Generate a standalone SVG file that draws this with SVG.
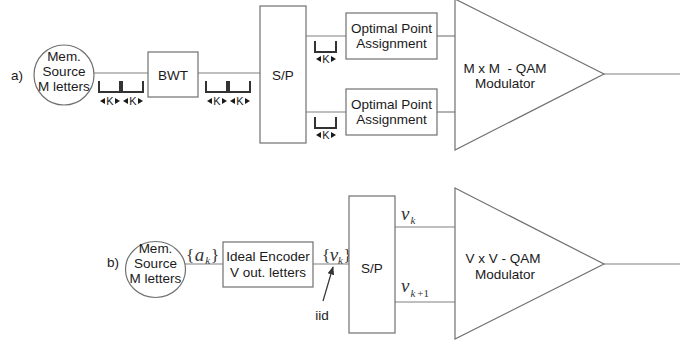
<svg xmlns="http://www.w3.org/2000/svg" xmlns:xlink="http://www.w3.org/1999/xlink" width="694" height="343" viewBox="0 0 694 343">
<style>
.box{fill:#fff;stroke:#707070;stroke-width:1.2}
.ln{fill:none;stroke:#808080;stroke-width:1.2}
.br{fill:none;stroke:#333;stroke-width:2}
.t{font-family:"Liberation Sans",Arial,sans-serif;font-size:13.5px;fill:#1a1a1a;text-anchor:middle}
.k{font-family:"Liberation Sans",Arial,sans-serif;font-size:11px;fill:#1a1a1a;text-anchor:middle}
.m{font-family:"Liberation Serif","Times New Roman",serif;font-size:17px;fill:#333}
.mi{font-style:italic}
.sub{font-family:"Liberation Serif","Times New Roman",serif;font-size:11px;font-style:italic;fill:#333}
.up{font-style:normal}
.big{font-size:19px}
</style>
<defs>
<g id="klab">
<polygon points="-10,0 -5,-3 -5,3" fill="#1a1a1a"/>
<text class="k" x="0" y="4">K</text>
<polygon points="10,0 5,-3 5,3" fill="#1a1a1a"/>
</g>
<marker id="arr" viewBox="0 0 10 10" refX="9" refY="5" markerWidth="7" markerHeight="7" orient="auto">
<path d="M0,1 L10,5 L0,9 z" fill="#333"/>
</marker>
</defs>

<!-- connectors -->
<g id="connectors">
<line class="ln" x1="94" y1="73" x2="148" y2="73"/>
<line class="ln" x1="198" y1="73" x2="260" y2="73"/>
<line class="ln" x1="306" y1="36" x2="346" y2="36"/>
<line class="ln" x1="306" y1="112" x2="346" y2="112"/>
<line class="ln" x1="437" y1="36" x2="455" y2="36"/>
<line class="ln" x1="437" y1="112" x2="455" y2="112"/>
<line class="ln" x1="604" y1="74" x2="680" y2="74"/>
<line class="ln" x1="185" y1="264" x2="223" y2="264"/>
<line class="ln" x1="313" y1="264" x2="349" y2="264"/>
<line class="ln" x1="395" y1="227" x2="455" y2="227"/>
<line class="ln" x1="395" y1="302" x2="455" y2="302"/>
<line class="ln" x1="604" y1="264" x2="680" y2="264"/>
<line x1="323" y1="301" x2="333" y2="267" stroke="#333" stroke-width="1.2" marker-end="url(#arr)"/>
</g>

<!-- a) -->
<text class="t" x="17" y="80">a)</text>
<g id="srcA">
<circle cx="64" cy="75" r="30" class="box"/>
<text class="t" x="64" y="61">Mem.</text>
<text class="t" x="64" y="76">Source</text>
<text class="t" x="64" y="91">M letters</text>
</g>
<g id="bktA1">
<path class="br" d="M99,81 V92 H120 V81 M122,81 V92 H143 V81"/>
<use xlink:href="#klab" x="110" y="101"/>
<use xlink:href="#klab" x="133" y="101"/>
</g>
<g id="bwt">
<rect class="box" x="148" y="52" width="50" height="45"/>
<text class="t" x="173" y="80">BWT</text>
</g>
<g id="bktA2">
<path class="br" d="M206,81 V92 H227 V81 M229,81 V92 H250 V81"/>
<use xlink:href="#klab" x="217" y="101"/>
<use xlink:href="#klab" x="240" y="101"/>
</g>
<g id="spA">
<rect class="box" x="260" y="6" width="46" height="137"/>
<text class="t" x="283" y="80">S/P</text>
</g>
<g id="bktA3">
<path class="br" d="M315,41 V52 H336 V41"/>
<use xlink:href="#klab" x="326" y="59"/>
<path class="br" d="M315,117 V128 H336 V117"/>
<use xlink:href="#klab" x="326" y="135"/>
</g>
<g id="opt1">
<rect class="box" x="346" y="13" width="91" height="46"/>
<text class="t" x="391.5" y="33">Optimal Point</text>
<text class="t" x="391.5" y="48">Assignment</text>
</g>
<g id="opt2">
<rect class="box" x="346" y="89" width="91" height="46"/>
<text class="t" x="391.5" y="109">Optimal Point</text>
<text class="t" x="391.5" y="124">Assignment</text>
</g>
<g id="modA">
<polygon class="box" points="455,-1 604,74 455,150"/>
<text class="t" x="505" y="73" xml:space="preserve">M x M  - QAM</text>
<text class="t" x="505" y="88">Modulator</text>
</g>

<!-- b) -->
<text class="t" x="113" y="267">b)</text>
<g id="srcB">
<ellipse cx="155.5" cy="269.5" rx="30" ry="28" class="box"/>
<text class="t" x="155.5" y="253">Mem.</text>
<text class="t" x="155.5" y="268">Source</text>
<text class="t" x="155.5" y="283">M letters</text>
</g>
<text id="lblA" class="m" x="186" y="261">{<tspan class="mi big" dx="0.5">a</tspan><tspan class="sub" dx="1" dy="3">k</tspan><tspan dx="1" dy="-3">}</tspan></text>
<g id="enc">
<rect class="box" x="223" y="242" width="90" height="45"/>
<text class="t" x="268" y="261">Ideal Encoder</text>
<text class="t" x="268" y="277">V out. letters</text>
</g>
<text id="lblV" class="m" x="322" y="261">{<tspan class="mi big" dx="-0.5">v</tspan><tspan class="sub" dy="3">k</tspan><tspan dx="0.5" dy="-3">}</tspan></text>
<text class="t" x="322" y="320">iid</text>
<g id="spB">
<rect class="box" x="349" y="196" width="46" height="137"/>
<text class="t" x="372" y="273">S/P</text>
</g>
<text id="lblVk" class="m mi big" x="401" y="220">v<tspan class="sub" dx="1" dy="4">k</tspan></text>
<text id="lblVk1" class="m mi big" x="401" y="292">v<tspan class="sub" dx="1" dy="5">k</tspan><tspan class="sub up" dx="2">+1</tspan></text>
<g id="modB">
<polygon class="box" points="455,188 604,264 455,339"/>
<text class="t" x="503" y="263">V x V - QAM</text>
<text class="t" x="505" y="279">Modulator</text>
</g>
</svg>
